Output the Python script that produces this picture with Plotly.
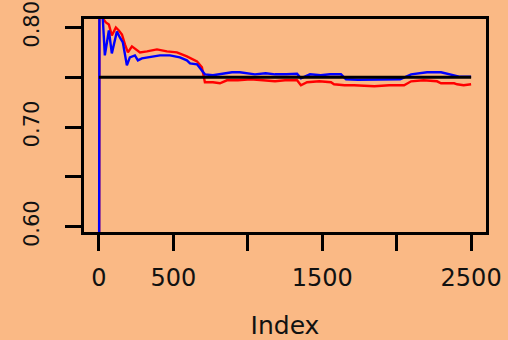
import plotly.graph_objects as go

# Running estimates of two chains, indexed 1..2500
red_index = [1, 4, 13, 27, 47, 67, 87, 114, 134, 155, 175, 195, 222, 255, 276, 323,
             390, 457, 524, 591, 659, 692, 712, 766, 813, 860, 934, 1020, 1116, 1183,
             1250, 1331, 1357, 1398, 1480, 1559, 1579, 1650, 1714, 1850, 1950, 2050,
             2097, 2180, 2271, 2298, 2386, 2406, 2450, 2500]
red_value = [0.50, 0.86, 0.815, 0.809, 0.805, 0.803, 0.792, 0.800, 0.797, 0.793,
             0.783, 0.775, 0.781, 0.777, 0.775, 0.776, 0.778, 0.776, 0.775, 0.771,
             0.766, 0.760, 0.745, 0.745, 0.744, 0.747, 0.747, 0.748, 0.747, 0.746,
             0.747, 0.747, 0.742, 0.745, 0.746, 0.745, 0.743, 0.742, 0.742, 0.741,
             0.742, 0.742, 0.746, 0.747, 0.746, 0.744, 0.744, 0.743, 0.742, 0.743]

blue_index = [1, 4, 13, 27, 40, 67, 87, 121, 141, 161, 188, 208, 242, 262, 289, 343,
              410, 477, 544, 591, 612, 659, 692, 712, 766, 860, 894, 947, 1001, 1048,
              1120, 1183, 1260, 1331, 1357, 1418, 1490, 1552, 1626, 1660, 1740, 1821,
              1920, 2023, 2097, 2204, 2298, 2359, 2426, 2500]
blue_value = [0.50, 0.86, 0.83, 0.807, 0.772, 0.797, 0.774, 0.796, 0.790, 0.785,
              0.762, 0.770, 0.772, 0.767, 0.769, 0.770, 0.772, 0.772, 0.770, 0.767,
              0.764, 0.763, 0.757, 0.753, 0.752, 0.754, 0.755, 0.755, 0.754, 0.753,
              0.754, 0.753, 0.753, 0.7535, 0.749, 0.753, 0.752, 0.753, 0.753, 0.748,
              0.7475, 0.7475, 0.748, 0.748, 0.753, 0.755, 0.755, 0.753, 0.7505, 0.7505]

target_index = [0, 2500]
target_value = [0.75, 0.75]

x_ticks = [0, 500, 1000, 1500, 2000, 2500]
x_labels = ["0", "500", "", "1500", "", "2500"]
y_ticks = [0.60, 0.65, 0.70, 0.75, 0.80]
y_labels = ["0.60", "", "0.70", "", "0.80"]

bg = "#FAB985"

fig = go.Figure()
fig.add_trace(go.Scatter(x=red_index, y=red_value, mode="lines",
                         line=dict(color="#FF0000", width=2.4), showlegend=False))
fig.add_trace(go.Scatter(x=blue_index, y=blue_value, mode="lines",
                         line=dict(color="#0000FF", width=2.4), showlegend=False))
fig.add_trace(go.Scatter(x=target_index, y=target_value, mode="lines",
                         line=dict(color="black", width=3), showlegend=False))

fig.update_layout(
    width=508, height=340,
    margin=dict(l=84, r=22, t=19, b=108),
    paper_bgcolor=bg, plot_bgcolor=bg,
    font=dict(family="DejaVu Sans", color="#111111"),
)
fig.update_xaxes(
    automargin=False,
    range=[-100, 2600], tickvals=x_ticks, ticktext=x_labels,
    showgrid=False, zeroline=False,
    showline=True, mirror=True, linecolor="black", linewidth=3,
    ticks="outside", ticklen=16, tickwidth=2.5, tickcolor="black",
    tickfont=dict(size=24), ticklabelstandoff=6,
    title=dict(text="Index", font=dict(size=25), standoff=27),
)
fig.update_yaxes(
    automargin=False,
    range=[0.5948, 0.8085], tickvals=y_ticks, ticktext=y_labels,
    showgrid=False, zeroline=False,
    showline=True, mirror=True, linecolor="black", linewidth=3,
    ticks="outside", ticklen=16, tickwidth=2.5, tickcolor="black",
    tickangle=-90, tickfont=dict(size=21), ticklabelstandoff=18,
)

fig.write_html("out.html")
